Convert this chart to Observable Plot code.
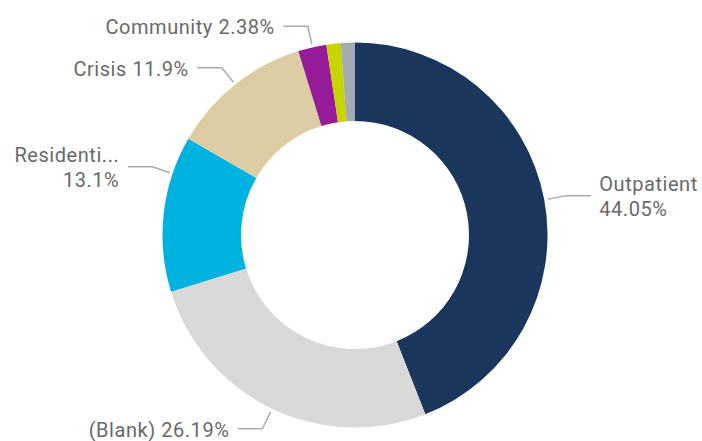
<!DOCTYPE html>
<html><head><meta charset="utf-8">
<script src="https://cdn.jsdelivr.net/npm/d3@7"></script>
<script src="https://cdn.jsdelivr.net/npm/@observablehq/plot@0.6"></script>
<style>body{margin:0;background:#fff} #chart{width:702px;height:441px} #chart svg text{letter-spacing:0.55px}</style>
</head><body><div id="chart"></div>
<script>
// ---- data ----
const categories = ["Outpatient", "(Blank)", "Residential", "Crisis", "Community", "Other", "Unknown"];
const percents = [44.05, 26.19, 13.1, 11.9, 2.38, 1.19, 1.19];
const colors = ["#1b365d", "#d9d9d9", "#00b2e0", "#dccda5", "#951b98", "#c6d400", "#a4abb3"];
const labelled = [true, true, true, true, true, false, false];

// ---- layout / style ----
const W = 702, H = 441;
const cx = 355, cy = 235, R = 192.5, R0 = 114;
const anchorPos = {Residential: 0.76}; // where the leader attaches inside the slice (default: middle)
const textColor = "#696969", leaderColor = "#ababab";

const data = categories.map((c, i) => ({category: c, value: percents[i], show: labelled[i]}));
const arcs = d3.pie().sort(null).value(d => d.value).startAngle(0).endAngle(2 * Math.PI)(data);
const color = Plot.scale({color: {type: "ordinal", domain: categories, range: colors}});

const fmt = v => String(+v.toFixed(2)) + "%";
const short = s => s.length > 10 ? s.slice(0, 9) + "..." : s;

const leaders = [], labels = [];
for (const a of arcs) {
  if (!a.data.show) continue;
  const p = anchorPos[a.data.category] ?? 0.5;
  const ang = a.startAngle + (a.endAngle - a.startAngle) * p;
  const s = Math.sin(ang), c = Math.cos(ang);
  const side = s >= 0 ? 1 : -1;
  const x0 = cx + (R + 4) * s, y0 = cy - (R + 4) * c;
  const x1 = cx + (R + 22) * s, y1 = cy - (R + 22) * c;
  const x2 = x1 + side * 24;
  const cat = a.data.category;
  leaders.push({category: cat, x: x0, y: y0}, {category: cat, x: x1, y: y1}, {category: cat, x: x2, y: y1});
  const twoLine = Math.abs(s) > 0.9;
  const text = twoLine ? short(cat) + "\n" + fmt(a.data.value) : cat + " " + fmt(a.data.value);
  labels.push({category: cat, x: x2 + side * 9, y: y1, text, side});
}

function slices(index, scales) {
  const X = scales.x || (v => v), Y = scales.y || (v => v);
  const arc = d3.arc().innerRadius(R0).outerRadius(R);
  const g = d3.create("svg:g");
  g.selectAll("path").data(arcs).join("path")
    .attr("transform", `translate(${X(cx)},${Y(cy)})`)
    .attr("d", arc)
    .attr("fill", d => color.apply(d.data.category));
  return g.node();
}

const textOpts = {x: "x", y: "y", text: "text", fill: textColor, fontSize: 20, lineHeight: 1.22, lineAnchor: "middle", fontFamily: "Roboto"};

const chart = Plot.plot({
  width: W, height: H, margin: 0,
  x: {domain: [0, W], range: [0, W], axis: null},
  y: {domain: [0, H], range: [0, H], axis: null},
  style: {background: "#fff", fontFamily: "Roboto"},
  marks: [
    slices,
    Plot.line(leaders, {x: "x", y: "y", z: "category", stroke: leaderColor, strokeWidth: 1.5}),
    Plot.text(labels.filter(d => d.side > 0), {...textOpts, textAnchor: "start"}),
    Plot.text(labels.filter(d => d.side < 0), {...textOpts, textAnchor: "end"})
  ]
});
document.getElementById("chart").appendChild(chart);
</script>
</body></html>
